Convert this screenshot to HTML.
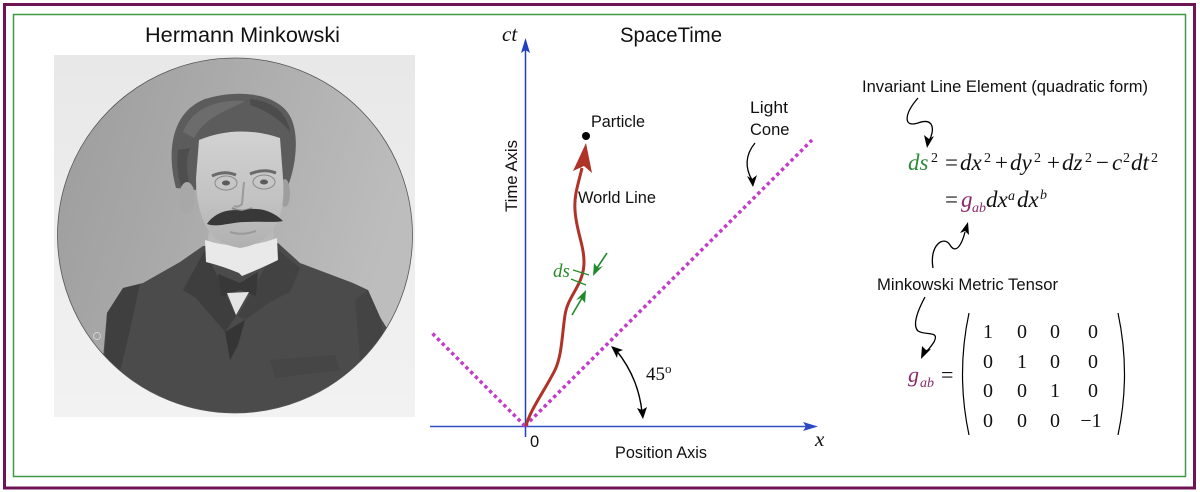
<!DOCTYPE html>
<html><head><meta charset="utf-8"><style>
html,body{margin:0;padding:0;background:#fff;}
svg{display:block;}
.sans{font-family:"Liberation Sans","DejaVu Sans",sans-serif;fill:#111;}
.ser{font-family:"Liberation Serif","DejaVu Serif",serif;fill:#111;}
.it{font-style:italic;}
</style></head><body>
<svg width="1200" height="492" viewBox="0 0 1200 492" xmlns="http://www.w3.org/2000/svg">
<defs>
<clipPath id="cc"><circle cx="235" cy="235.5" r="177.5"/></clipPath>
<linearGradient id="bgc" x1="0" y1="0" x2="1" y2="0.3">
<stop offset="0" stop-color="#9c9c9c"/><stop offset="0.5" stop-color="#acacac"/><stop offset="1" stop-color="#bdbdbd"/>
</linearGradient>
<linearGradient id="rectg" x1="0" y1="0" x2="0" y2="1">
<stop offset="0" stop-color="#e8e8e8"/><stop offset="1" stop-color="#f2f2f2"/>
</linearGradient>
<linearGradient id="faceg" x1="0" y1="0" x2="0" y2="1">
<stop offset="0" stop-color="#d2d2d2"/><stop offset="0.6" stop-color="#c2c2c2"/><stop offset="1" stop-color="#b0b0b0"/>
</linearGradient>
</defs>
<rect width="1200" height="492" fill="#fff"/>
<!-- borders -->
<rect x="4.5" y="4.5" width="1190" height="483.5" fill="none" stroke="#6e1455" stroke-width="3"/>
<rect x="13.5" y="14.5" width="1172" height="462" fill="none" stroke="#3f9a45" stroke-width="1.5"/>

<!-- Portrait -->
<text class="sans" x="145" y="42" font-size="21" textLength="195" lengthAdjust="spacingAndGlyphs">Hermann Minkowski</text>
<rect x="54" y="55" width="361" height="362" fill="url(#rectg)"/>
<circle cx="235" cy="235.5" r="177.5" fill="url(#bgc)"/>
<g clip-path="url(#cc)">
  <path d="M203,246 L180,262 L143,283 L123,288 L107,313 L102,370 L98,430 L395,430 L388,330 L380,317 L368,290 L353,283 L300,263 L278,243 Z" fill="#4b4b4b"/>
  <path d="M107,313 L123,288 L140,284 L130,330 L118,380 L104,370 Z" fill="#3f3f3f"/>
  <path d="M368,290 L380,317 L386,350 L360,360 L355,300 Z" fill="#444"/>
  <path d="M205,250 L183,290 L196,298 L225,332 L236,316 Z" fill="#3e3e3e"/>
  <path d="M276,248 L300,268 L290,292 L270,302 L245,320 L238,316 Z" fill="#424242"/>
  <path d="M225,332 L245,320 L238,345 L230,360 Z" fill="#353535"/>
  <path d="M270,360 L335,355 L340,370 L275,378 Z" fill="#464646"/>
</g>
<path d="M210,225 L272,225 L276,250 L206,250 Z" fill="#b9b9b9"/>
<path d="M205,240 Q240,252 277,238 L278,260 Q262,268 242,276 L239,273 Q222,266 206,262 Z" fill="#e9e9e9"/>
<path d="M218,274 L240,283 L258,272 L256,296 L240,290 L221,297 Z" fill="#383838"/>
<path d="M227,293 L249,292 L236,315 Z" fill="#e4e4e4"/>
<path d="M176,188 C166,150 172,112 205,99 C240,88 280,94 291,118 C300,138 295,168 288,186 L282,186 L280,150 L200,150 L196,190 Z" fill="#5c5c5c"/>
<path d="M183,132 C192,108 218,99 245,101 C230,110 205,116 194,138 Z" fill="#6c6c6c"/>
<path d="M250,99 C272,101 287,112 290,132 C279,118 265,110 250,105 Z" fill="#4c4c4c"/>
<path d="M178,150 C176,165 178,178 182,188 L190,186 C186,170 186,158 190,148 Z" fill="#4e4e4e"/>
<ellipse cx="187" cy="198" rx="8" ry="16" fill="#a8a8a8"/>
<ellipse cx="285" cy="193" rx="5" ry="14" fill="#9e9e9e"/>
<path d="M199,140 Q238,124 280,138 L283,178 Q285,205 278,220 Q268,244 240,248 Q212,244 203,220 Q196,202 196,178 Z" fill="url(#faceg)"/>
<path d="M212,176 Q224,170 236,175" stroke="#6a6a6a" stroke-width="3" fill="none"/>
<path d="M250,174 Q264,168 276,173" stroke="#6a6a6a" stroke-width="3" fill="none"/>
<ellipse cx="226" cy="183" rx="11" ry="7" fill="none" stroke="#8a8a8a" stroke-width="1"/>
<ellipse cx="264" cy="182" rx="11" ry="7" fill="none" stroke="#8a8a8a" stroke-width="1"/>
<ellipse cx="226" cy="183" rx="4" ry="2.5" fill="#5a5a5a"/>
<ellipse cx="264" cy="182" rx="4" ry="2.5" fill="#5a5a5a"/>
<path d="M244,182 L242,204 Q238,208 234,206" stroke="#9a9a9a" stroke-width="2" fill="none"/>
<path d="M232,208 Q242,213 252,208" stroke="#8a8a8a" stroke-width="2" fill="none"/>
<path d="M207,224 C214,213 229,208 242,211 C256,206 272,210 283,221 C274,223 262,221 246,222 C230,222 218,228 207,224 Z" fill="#383838"/>
<path d="M230,232 Q242,236 256,231" stroke="#9a9a9a" stroke-width="2" fill="none"/>
<circle cx="235" cy="235.5" r="177.5" fill="none" stroke="#555" stroke-width="0.8"/>
<circle cx="97" cy="336" r="3.5" fill="none" stroke="#ddd" stroke-width="0.8"/>

<!-- SpaceTime diagram -->
<text class="sans" x="620" y="42" font-size="21" textLength="102" lengthAdjust="spacingAndGlyphs">SpaceTime</text>
<text class="ser it" x="502" y="41" font-size="21">ct</text>
<text class="sans" font-size="16.5" transform="translate(517,212) rotate(-90)" textLength="72" lengthAdjust="spacingAndGlyphs">Time Axis</text>
<line x1="525.5" y1="50" x2="525.5" y2="437" stroke="#2040bf" stroke-width="1.5"/>
<polygon points="525.5,38 521,53 525.5,50 530,53" fill="#2040bf"/>
<line x1="430" y1="426.5" x2="806" y2="426.5" stroke="#3050c4" stroke-width="1.5"/>
<polygon points="818,426.5 803,422 806,426.5 803,431" fill="#2a48c4"/>
<line x1="525" y1="426" x2="812" y2="140" stroke="#c23ec9" stroke-width="3.5" stroke-dasharray="3.5 3.2"/>
<line x1="525" y1="426" x2="432" y2="333" stroke="#c23ec9" stroke-width="3.5" stroke-dasharray="3.5 3.2"/>
<text class="sans" x="750" y="113" font-size="16.5" textLength="38" lengthAdjust="spacingAndGlyphs">Light</text>
<text class="sans" x="750" y="135" font-size="16.5">Cone</text>
<path d="M755,143 C745,155 745,168 752,180" stroke="#000" stroke-width="1.3" fill="none"/>
<polygon points="753,187 747,176 752,179 757,175" fill="#000"/>
<path d="M526,426 C530,410 545,390 555,370 C562,355 562,335 565,315 C568,295 584,285 584,262 C584,245 576,230 575,210 C574,195 578,185 582,168" stroke="#b03328" stroke-width="3" fill="none"/>
<polygon points="586,143 592,173 584,166 573,171" fill="#b03328"/>
<circle cx="586" cy="136" r="4" fill="#000"/>
<text class="sans" x="591" y="127" font-size="16.5" textLength="54" lengthAdjust="spacingAndGlyphs">Particle</text>
<text class="sans" x="578" y="203" font-size="16.5" textLength="78" lengthAdjust="spacingAndGlyphs">World Line</text>
<text class="ser it" x="553" y="277" font-size="19" style="fill:#2a8a2a">ds</text>
<line x1="573" y1="270" x2="589" y2="275" stroke="#2a8a2a" stroke-width="1.3"/>
<line x1="571" y1="279" x2="586" y2="285" stroke="#2a8a2a" stroke-width="1.3"/>
<line x1="607" y1="253" x2="597" y2="268" stroke="#1f8a2a" stroke-width="1.6"/>
<polygon points="593,276 594,263 598,268 603,266" fill="#1f8a2a"/>
<line x1="572" y1="315" x2="582" y2="298" stroke="#1f8a2a" stroke-width="1.6"/>
<polygon points="586,290 585,303 581,298 576,300" fill="#1f8a2a"/>
<path d="M616,350 A118,118 0 0 1 642,412" stroke="#000" stroke-width="1.4" fill="none"/>
<polygon points="611,346 623,350 618,352 617,358" fill="#000"/>
<polygon points="643,419 637,408 642,410 647,407" fill="#000"/>
<text class="ser" x="646" y="380" font-size="19">45</text>
<text class="ser" x="665" y="373" font-size="13">o</text>
<text class="sans" x="530" y="447" font-size="16.5">0</text>
<text class="sans" x="615" y="458" font-size="16.5" textLength="92" lengthAdjust="spacingAndGlyphs">Position Axis</text>
<text class="ser it" x="815" y="446" font-size="21">x</text>

<!-- Right equations -->
<text class="sans" x="862" y="92" font-size="16.5" textLength="286" lengthAdjust="spacingAndGlyphs">Invariant Line Element (quadratic form)</text>
<path d="M918,98 C904,114 903,128 918,123 C934,117 935,130 929,141" stroke="#000" stroke-width="1.3" fill="none"/>
<polygon points="927,148 924,135 929,139 934,136" fill="#000"/>

<g class="ser" font-size="23">
<text x="908" y="170" class="ser it" style="fill:#2a8a3a">ds</text>
<text x="931" y="162" font-size="14">2</text>
<text x="945" y="170">=</text>
<text x="960" y="170" class="ser it">dx</text>
<text x="984" y="162" font-size="14">2</text>
<text x="995" y="170">+</text>
<text x="1010" y="170" class="ser it">dy</text>
<text x="1034" y="162" font-size="14">2</text>
<text x="1047" y="170">+</text>
<text x="1062" y="170" class="ser it">dz</text>
<text x="1085" y="162" font-size="14">2</text>
<text x="1096" y="170">−</text>
<text x="1112" y="170" class="ser it">c</text>
<text x="1123" y="162" font-size="14">2</text>
<text x="1131" y="170" class="ser it">dt</text>
<text x="1151" y="162" font-size="14">2</text>

<text x="945" y="207">=</text>
<text x="961" y="207" class="ser it" style="fill:#8a2a6a">g</text>
<text x="972" y="212" font-size="14" class="ser it" style="fill:#8a2a6a">ab</text>
<text x="986" y="207" class="ser it">dx</text>
<text x="1008" y="200" font-size="14" class="ser it">a</text>
<text x="1017" y="207" class="ser it">dx</text>
<text x="1040" y="199" font-size="14" class="ser it">b</text>
</g>

<path d="M933,268 C929,245 944,235 950,245 C956,255 962,244 965,232" stroke="#000" stroke-width="1.3" fill="none"/>
<polygon points="968,222 969,235 965,231 960,233" fill="#000"/>

<text class="sans" x="877" y="290" font-size="16.5" textLength="181" lengthAdjust="spacingAndGlyphs">Minkowski Metric Tensor</text>
<path d="M925,297 C918,310 912,325 918,331 C926,336 940,330 934,342 C930,348 928,350 926,352" stroke="#000" stroke-width="1.3" fill="none"/>
<polygon points="921,359 922,346 926,350 931,349" fill="#000"/>

<g class="ser" font-size="22">
<text x="908" y="382" class="ser it" style="fill:#8a2a6a">g</text>
<text x="920" y="387" font-size="14" class="ser it" style="fill:#8a2a6a">ab</text>
<text x="941" y="382">=</text>
</g>
<path d="M969,313 Q956,374 969,435" stroke="#000" stroke-width="1.2" fill="none"/>
<path d="M1118,313 Q1131,374 1118,435" stroke="#000" stroke-width="1.2" fill="none"/>
<g class="ser" font-size="20" text-anchor="middle">
<text x="988" y="338">1</text><text x="1022" y="338">0</text><text x="1055" y="338">0</text><text x="1093" y="338">0</text>
<text x="988" y="368">0</text><text x="1022" y="368">1</text><text x="1055" y="368">0</text><text x="1093" y="368">0</text>
<text x="988" y="397">0</text><text x="1022" y="397">0</text><text x="1055" y="397">1</text><text x="1093" y="397">0</text>
<text x="988" y="427">0</text><text x="1022" y="427">0</text><text x="1055" y="427">0</text><text x="1091" y="427">−1</text>
</g>
</svg>
</body></html>
